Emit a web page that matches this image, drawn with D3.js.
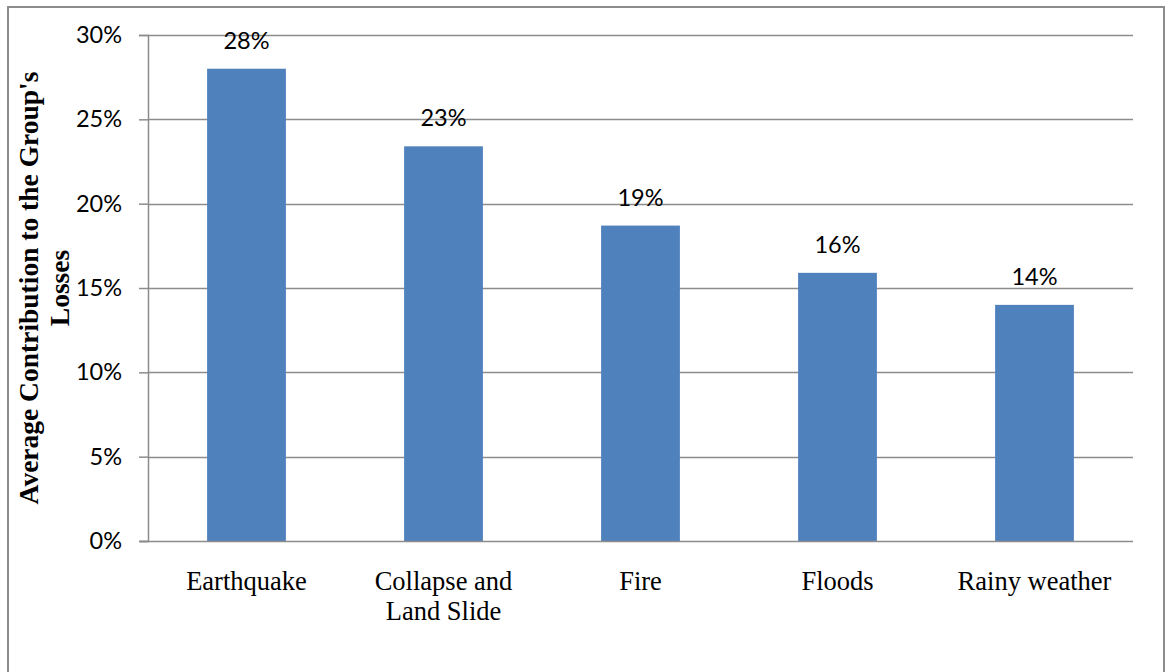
<!DOCTYPE html>
<html>
<head>
<meta charset="utf-8">
<script src="https://cdn.jsdelivr.net/npm/d3@7"></script>
<style>
  body { margin: 0; background: #fff; }
  svg { display: block; }
</style>
</head>
<body>
<svg id="chart" width="1165" height="672"></svg>
<script>
const categories = [["Earthquake"], ["Collapse and", "Land Slide"], ["Fire"], ["Floods"], ["Rainy weather"]];
const values = [0.280, 0.234, 0.187, 0.159, 0.140];
const labels = ["28%", "23%", "19%", "16%", "14%"];
const yTicks = [0, 0.05, 0.10, 0.15, 0.20, 0.25, 0.30];
const yTitle = ["Average Contribution to the Group's", "Losses"];

const svg = d3.select("#chart");
const m = { left: 148, right: 1133, top: 35, bottom: 541 };

// outer frame
svg.append("rect").attr("x", 8).attr("y", 7).attr("width", 1156).attr("height", 700)
  .attr("fill", "none").attr("stroke", "#8c8c8c").attr("stroke-width", 2);

const x = d3.scaleBand().domain(d3.range(categories.length)).range([m.left, m.right]).paddingInner(0.6).paddingOuter(0.3);
const y = d3.scaleLinear().domain([0, 0.30]).range([m.bottom, m.top]);

// gridlines
svg.append("g").selectAll("line").data(yTicks.filter(d => d > 0)).join("line")
  .attr("x1", m.left).attr("x2", m.right)
  .attr("y1", d => Math.round(y(d)) + 0.5).attr("y2", d => Math.round(y(d)) + 0.5)
  .attr("stroke", "#8c8c8c").attr("stroke-width", 1.5);

// y axis
const yAxis = d3.axisLeft(y).tickValues(yTicks).tickFormat(d3.format(".0%")).tickSize(9).tickPadding(17);
const gy = svg.append("g").attr("transform", `translate(${m.left},0)`).call(yAxis);
gy.select(".domain").attr("stroke", "#8c8c8c").attr("stroke-width", 1.5);
gy.selectAll(".tick line").attr("stroke", "#8c8c8c").attr("stroke-width", 1.5);
gy.selectAll(".tick text").attr("font-family", "Lato, 'Open Sans', sans-serif").attr("font-size", 23.5).attr("fill", "#000");

// bars
svg.append("g").selectAll("rect").data(values).join("rect")
  .attr("x", (d, i) => x(i)).attr("width", x.bandwidth())
  .attr("y", d => y(d)).attr("height", d => y(0) - y(d))
  .attr("fill", "#4f81bd");

// x axis baseline
svg.append("line").attr("x1", 140).attr("x2", m.right)
  .attr("y1", y(0) + 0.5).attr("y2", y(0) + 0.5)
  .attr("stroke", "#8c8c8c").attr("stroke-width", 1.5);

// data labels
svg.append("g").selectAll("text").data(values).join("text")
  .attr("x", (d, i) => x(i) + x.bandwidth() / 2)
  .attr("y", d => y(d) - 20)
  .attr("text-anchor", "middle")
  .attr("font-family", "Lato, 'Open Sans', sans-serif").attr("font-size", 23.5).attr("fill", "#000")
  .text((d, i) => labels[i]);

// category labels
const cat = svg.append("g").selectAll("text").data(categories).join("text")
  .attr("x", (d, i) => x(i) + x.bandwidth() / 2)
  .attr("y", 590)
  .attr("text-anchor", "middle")
  .attr("font-family", "'Liberation Serif', 'Times New Roman', serif").attr("font-size", 26.5).attr("fill", "#000");
cat.selectAll("tspan").data(d => d).join("tspan")
  .attr("x", function() { return d3.select(this.parentNode).attr("x"); })
  .attr("dy", (d, i) => i === 0 ? 0 : 30)
  .text(d => d);

// y title
const t = svg.append("text")
  .attr("transform", "translate(38,288) rotate(-90)")
  .attr("text-anchor", "middle")
  .attr("font-family", "'Liberation Serif', 'Times New Roman', serif")
  .attr("font-weight", "bold").attr("font-size", 27.5).attr("fill", "#000");
t.selectAll("tspan").data(yTitle).join("tspan")
  .attr("x", 0).attr("dy", (d, i) => i === 0 ? 0 : 31)
  .text(d => d);
</script>
</body>
</html>
